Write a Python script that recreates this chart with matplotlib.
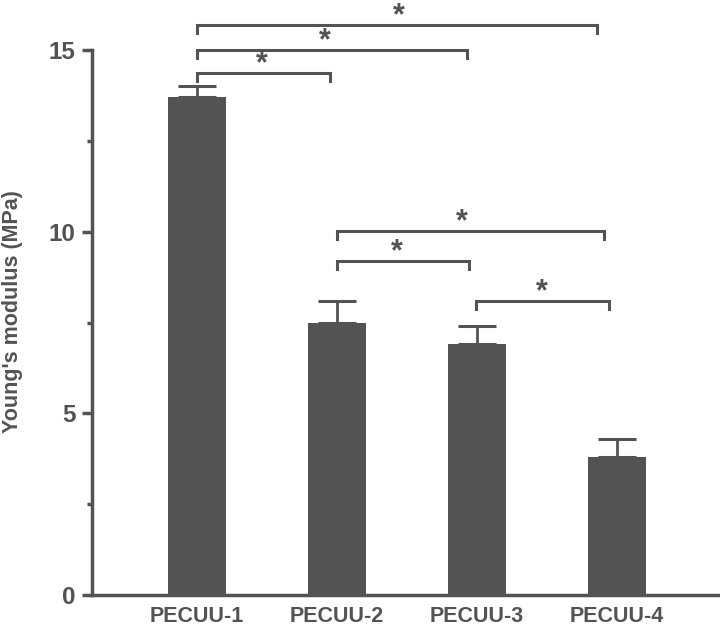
import matplotlib.pyplot as plt
from matplotlib.ticker import MultipleLocator

# data
samples = ['PECUU-1', 'PECUU-2', 'PECUU-3', 'PECUU-4']
modulus = [13.7, 7.5, 6.9, 3.8]
modulus_err = [0.3, 0.6, 0.5, 0.5]

# significance brackets: left end, right end, height, star position
bracket_x0 = [0.0, 0.0, 0.0, 1.0, 1.0, 1.99]
bracket_x1 = [0.95, 1.93, 2.86, 1.94, 2.91, 2.94]
bracket_y = [14.37, 15.0, 15.69, 9.19, 10.02, 8.09]
star_x = [0.46, 0.91, 1.44, 1.43, 1.89, 2.46]

grey = '#535353'
plt.rcParams['font.family'] = ['Liberation Sans', 'DejaVu Sans']

fig = plt.figure(figsize=(7.2, 6.35), dpi=100)
ax = fig.add_axes([0.128, 0.063, 0.872, 0.858])

x = list(range(len(samples)))
ax.bar(x, modulus, width=0.41, color=grey, zorder=2)
ax.errorbar(x, modulus, yerr=[[0] * len(x), modulus_err], fmt='none',
            ecolor=grey, elinewidth=2, capsize=13.5, capthick=2.2, zorder=1)

# brackets with stars
drop = 0.22
for x0, x1, y, sx in zip(bracket_x0, bracket_x1, bracket_y, star_x):
    ax.plot([x0, x0, x1, x1], [y - drop, y, y, y - drop], color=grey,
            lw=2.2, clip_on=False, solid_joinstyle='miter')
    ax.text(sx, y + 0.02, '*', ha='center', va='baseline', fontsize=22,
            fontweight='bold', color=grey, clip_on=False)

ax.set_xlim(-0.75, 3.736)
ax.set_ylim(0, 15)
ax.yaxis.set_major_locator(MultipleLocator(5))
ax.yaxis.set_minor_locator(MultipleLocator(2.5))

ax.set_xticks(x)
ax.set_xticklabels(samples, fontsize=15.5, fontweight='bold', color=grey)
ax.tick_params(axis='x', length=0, pad=8)
ax.tick_params(axis='y', which='major', length=7, width=2.5, color=grey,
               labelsize=17.5, labelcolor=grey, pad=5)
ax.tick_params(axis='y', which='minor', length=3.5, width=2.5, color=grey)
for lbl in ax.get_yticklabels():
    lbl.set_fontweight('bold')

ax.set_ylabel("Young's modulus (MPa)", fontsize=15.5, fontweight='bold',
              color=grey)
ax.yaxis.set_label_coords(-0.11, 0.52)

for side in ['top', 'right']:
    ax.spines[side].set_visible(False)
for side in ['left', 'bottom']:
    ax.spines[side].set_linewidth(2.5)
    ax.spines[side].set_color(grey)

fig.savefig('out.png', dpi=100)
